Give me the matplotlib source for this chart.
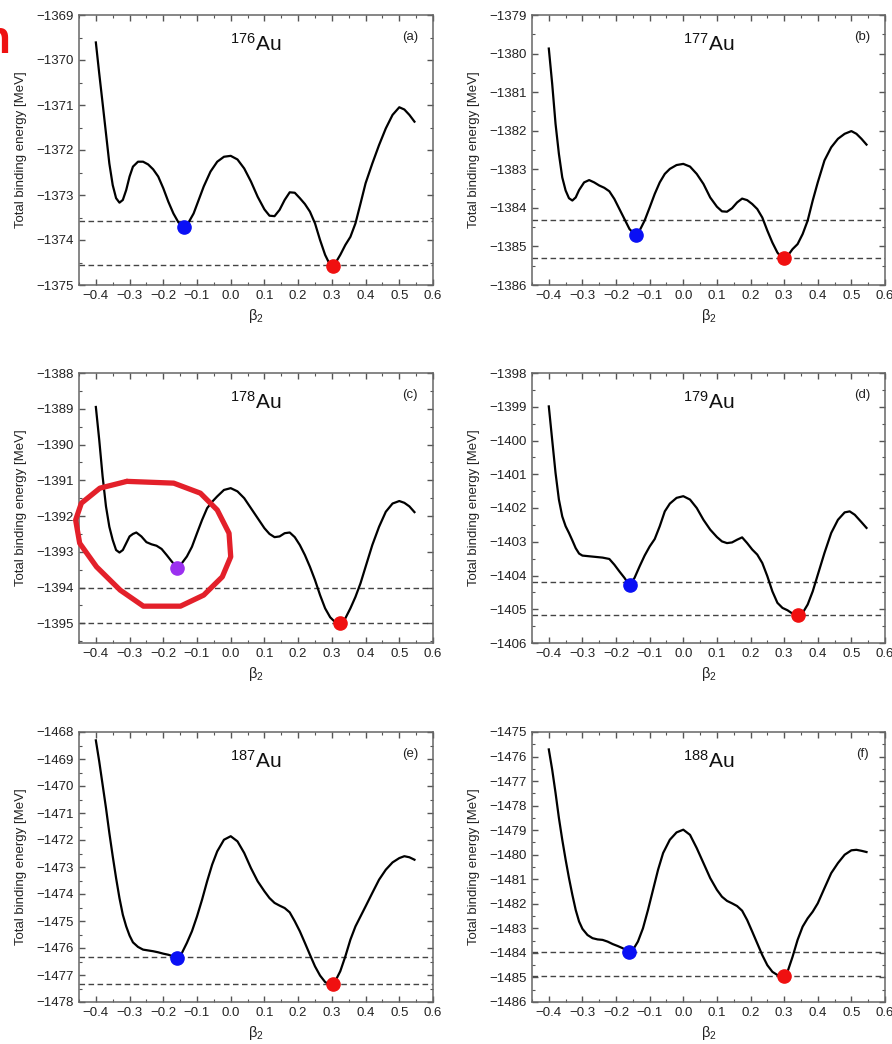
import matplotlib
matplotlib.use("Agg")

import matplotlib.pyplot as plt
from matplotlib.ticker import MultipleLocator

plt.rcParams['font.family'] = ['Liberation Sans', 'DejaVu Sans']
plt.rcParams['mathtext.fontset'] = 'custom'
plt.rcParams['mathtext.rm'] = 'Liberation Sans'
plt.rcParams['mathtext.it'] = 'Liberation Sans'

# ---- data ----
labels = ["(a)", "(b)", "(c)", "(d)", "(e)", "(f)"]
isotopes = ["176", "177", "178", "179", "187", "188"]
ylims = [(-1375, -1369), (-1386, -1379), (-1395.55, -1388),
         (-1406, -1398), (-1478, -1468), (-1486, -1475)]

beta_a = [-0.400, -0.390, -0.380, -0.370, -0.360, -0.350, -0.340, -0.330, -0.320, -0.310,
          -0.300, -0.290, -0.275, -0.260, -0.245, -0.230, -0.215, -0.200, -0.185, -0.170,
          -0.155, -0.140, -0.125, -0.110, -0.095, -0.080, -0.060, -0.040, -0.020, 0.000,
          0.020, 0.040, 0.060, 0.080, 0.100, 0.115, 0.130, 0.145, 0.160, 0.175,
          0.190, 0.205, 0.220, 0.235, 0.250, 0.265, 0.280, 0.295, 0.310, 0.325,
          0.340, 0.355, 0.370, 0.385, 0.400, 0.420, 0.440, 0.460, 0.480, 0.500,
          0.515, 0.530, 0.545]
e_a = [-1369.61, -1370.30, -1370.96, -1371.63, -1372.30, -1372.78, -1373.07, -1373.17, -1373.11, -1372.89,
       -1372.59, -1372.37, -1372.26, -1372.26, -1372.32, -1372.43, -1372.59, -1372.85, -1373.15, -1373.41,
       -1373.61, -1373.70, -1373.61, -1373.41, -1373.11, -1372.81, -1372.48, -1372.26, -1372.15, -1372.13,
       -1372.21, -1372.41, -1372.70, -1373.04, -1373.32, -1373.46, -1373.47, -1373.33, -1373.11, -1372.94,
       -1372.95, -1373.07, -1373.20, -1373.37, -1373.63, -1374.00, -1374.33, -1374.56, -1374.52, -1374.33,
       -1374.11, -1373.93, -1373.63, -1373.19, -1372.74, -1372.30, -1371.89, -1371.52, -1371.22, -1371.05,
       -1371.10, -1371.22, -1371.37]

beta_b = [-0.400, -0.390, -0.380, -0.370, -0.360, -0.350, -0.340, -0.330, -0.320, -0.310,
          -0.295, -0.280, -0.265, -0.250, -0.235, -0.220, -0.205, -0.190, -0.175, -0.160,
          -0.145, -0.130, -0.115, -0.100, -0.085, -0.070, -0.055, -0.040, -0.020, 0.000,
          0.020, 0.040, 0.060, 0.080, 0.100, 0.115, 0.130, 0.145, 0.160, 0.175,
          0.190, 0.205, 0.220, 0.235, 0.250, 0.265, 0.280, 0.295, 0.310, 0.325,
          0.340, 0.355, 0.370, 0.385, 0.400, 0.420, 0.440, 0.460, 0.480, 0.500,
          0.515, 0.530, 0.545]
e_b = [-1379.87, -1380.78, -1381.82, -1382.60, -1383.21, -1383.55, -1383.75, -1383.81, -1383.73, -1383.54,
       -1383.34, -1383.28, -1383.34, -1383.42, -1383.48, -1383.57, -1383.77, -1384.03, -1384.29, -1384.55,
       -1384.68, -1384.59, -1384.33, -1383.99, -1383.64, -1383.34, -1383.12, -1382.99, -1382.89, -1382.86,
       -1382.93, -1383.12, -1383.38, -1383.73, -1383.97, -1384.09, -1384.10, -1384.01, -1383.86, -1383.76,
       -1383.80, -1383.90, -1384.03, -1384.25, -1384.59, -1384.90, -1385.16, -1385.31, -1385.25, -1385.07,
       -1384.94, -1384.68, -1384.33, -1383.81, -1383.34, -1382.77, -1382.43, -1382.21, -1382.08, -1382.01,
       -1382.08, -1382.21, -1382.36]

beta_c = [-0.400, -0.390, -0.380, -0.370, -0.360, -0.350, -0.340, -0.330, -0.320, -0.310,
          -0.300, -0.290, -0.280, -0.265, -0.250, -0.235, -0.220, -0.205, -0.190, -0.175,
          -0.160, -0.145, -0.130, -0.115, -0.100, -0.085, -0.070, -0.055, -0.040, -0.020,
          0.000, 0.020, 0.040, 0.060, 0.080, 0.100, 0.115, 0.130, 0.145, 0.160,
          0.175, 0.190, 0.205, 0.220, 0.235, 0.250, 0.265, 0.280, 0.295, 0.310,
          0.325, 0.340, 0.355, 0.370, 0.385, 0.400, 0.420, 0.440, 0.460, 0.480,
          0.500, 0.515, 0.530, 0.545]
e_c = [-1388.95, -1389.87, -1390.89, -1391.73, -1392.30, -1392.67, -1392.95, -1393.02, -1392.95, -1392.76,
       -1392.57, -1392.50, -1392.46, -1392.57, -1392.73, -1392.79, -1392.83, -1392.92, -1393.09, -1393.27,
       -1393.43, -1393.32, -1393.13, -1392.86, -1392.48, -1392.11, -1391.78, -1391.60, -1391.45, -1391.27,
       -1391.22, -1391.31, -1391.50, -1391.78, -1392.06, -1392.34, -1392.50, -1392.59, -1392.57, -1392.48,
       -1392.46, -1392.59, -1392.81, -1393.09, -1393.42, -1393.79, -1394.21, -1394.58, -1394.83, -1394.97,
       -1395.00, -1394.86, -1394.58, -1394.26, -1393.88, -1393.42, -1392.81, -1392.30, -1391.88, -1391.65,
       -1391.58, -1391.63, -1391.73, -1391.89]

beta_d = [-0.400, -0.390, -0.380, -0.370, -0.360, -0.350, -0.340, -0.330, -0.320, -0.310,
          -0.300, -0.280, -0.260, -0.240, -0.220, -0.205, -0.190, -0.175, -0.160, -0.145,
          -0.130, -0.115, -0.100, -0.085, -0.070, -0.055, -0.040, -0.020, 0.000, 0.020,
          0.040, 0.060, 0.080, 0.100, 0.115, 0.130, 0.145, 0.160, 0.175, 0.190,
          0.205, 0.220, 0.235, 0.250, 0.265, 0.280, 0.295, 0.310, 0.325, 0.340,
          0.355, 0.370, 0.385, 0.400, 0.420, 0.440, 0.460, 0.480, 0.495, 0.510,
          0.530, 0.545]
e_d = [-1398.99, -1399.98, -1400.96, -1401.75, -1402.25, -1402.54, -1402.74, -1402.96, -1403.19, -1403.35,
       -1403.41, -1403.43, -1403.45, -1403.47, -1403.51, -1403.68, -1403.88, -1404.07, -1404.29, -1404.07,
       -1403.73, -1403.41, -1403.14, -1402.92, -1402.54, -1402.10, -1401.87, -1401.70, -1401.65, -1401.75,
       -1402.00, -1402.35, -1402.64, -1402.86, -1402.99, -1403.04, -1403.02, -1402.94, -1402.87, -1403.04,
       -1403.23, -1403.38, -1403.63, -1404.02, -1404.47, -1404.81, -1404.96, -1405.03, -1405.13, -1405.19,
       -1405.11, -1404.86, -1404.47, -1403.98, -1403.33, -1402.74, -1402.35, -1402.13, -1402.10, -1402.20,
       -1402.42, -1402.59]

beta_e = [-0.400, -0.390, -0.380, -0.370, -0.360, -0.350, -0.340, -0.330, -0.320, -0.310,
          -0.300, -0.290, -0.275, -0.260, -0.245, -0.230, -0.215, -0.200, -0.185, -0.170,
          -0.160, -0.145, -0.130, -0.115, -0.100, -0.085, -0.070, -0.055, -0.040, -0.020,
          0.000, 0.020, 0.040, 0.060, 0.080, 0.100, 0.115, 0.130, 0.145, 0.160,
          0.175, 0.190, 0.205, 0.220, 0.235, 0.250, 0.265, 0.280, 0.295, 0.310,
          0.325, 0.340, 0.355, 0.370, 0.385, 0.400, 0.420, 0.440, 0.460, 0.480,
          0.500, 0.515, 0.530, 0.545]
e_e = [-1468.31, -1469.09, -1469.95, -1470.81, -1471.74, -1472.60, -1473.41, -1474.15, -1474.77, -1475.20,
       -1475.54, -1475.79, -1475.96, -1476.06, -1476.09, -1476.12, -1476.16, -1476.21, -1476.25, -1476.31,
       -1476.37, -1476.19, -1475.81, -1475.38, -1474.83, -1474.21, -1473.53, -1472.91, -1472.42, -1471.99,
       -1471.86, -1472.05, -1472.48, -1473.04, -1473.53, -1473.90, -1474.15, -1474.33, -1474.43, -1474.52,
       -1474.68, -1475.01, -1475.38, -1475.81, -1476.25, -1476.68, -1477.02, -1477.26, -1477.36, -1477.23,
       -1476.86, -1476.31, -1475.69, -1475.20, -1474.83, -1474.46, -1473.96, -1473.47, -1473.10, -1472.83,
       -1472.67, -1472.60, -1472.64, -1472.73]

beta_f = [-0.400, -0.390, -0.380, -0.370, -0.360, -0.350, -0.340, -0.330, -0.320, -0.310,
          -0.300, -0.285, -0.270, -0.255, -0.240, -0.225, -0.210, -0.195, -0.180, -0.165,
          -0.150, -0.135, -0.120, -0.105, -0.090, -0.075, -0.060, -0.040, -0.020, 0.000,
          0.020, 0.040, 0.060, 0.080, 0.100, 0.115, 0.130, 0.145, 0.160, 0.175,
          0.190, 0.205, 0.220, 0.235, 0.250, 0.265, 0.280, 0.295, 0.310, 0.325,
          0.340, 0.355, 0.370, 0.385, 0.400, 0.420, 0.440, 0.460, 0.480, 0.500,
          0.515, 0.530, 0.545]
e_f = [-1475.71, -1476.53, -1477.48, -1478.50, -1479.39, -1480.20, -1480.95, -1481.63, -1482.25, -1482.72,
       -1483.02, -1483.27, -1483.40, -1483.45, -1483.47, -1483.54, -1483.64, -1483.72, -1483.81, -1483.95,
       -1483.88, -1483.54, -1483.00, -1482.25, -1481.43, -1480.61, -1479.93, -1479.39, -1479.09, -1478.98,
       -1479.19, -1479.73, -1480.34, -1480.95, -1481.43, -1481.71, -1481.88, -1481.98, -1482.09, -1482.28,
       -1482.66, -1483.13, -1483.61, -1484.09, -1484.50, -1484.77, -1484.90, -1484.95, -1484.77, -1484.16,
       -1483.47, -1482.93, -1482.59, -1482.32, -1481.98, -1481.36, -1480.75, -1480.34, -1480.00, -1479.82,
       -1479.80, -1479.84, -1479.89]

betas = [beta_a, beta_b, beta_c, beta_d, beta_e, beta_f]
energies = [e_a, e_b, e_c, e_d, e_e, e_f]

# oblate (left) and prolate (right) minima, and the dashed reference levels
oblate_beta = [-0.139, -0.141, -0.159, -0.159, -0.159, -0.161]
oblate_e = [-1373.70, -1384.70, -1393.44, -1404.29, -1476.37, -1483.98]
prolate_beta = [0.302, 0.300, 0.323, 0.340, 0.303, 0.300]
prolate_e = [-1374.57, -1385.31, -1395.00, -1405.18, -1477.35, -1484.95]
upper_level = [-1373.57, -1384.32, -1394.00, -1404.19, -1476.35, -1483.95]
lower_level = [-1374.56, -1385.31, -1395.00, -1405.18, -1477.35, -1484.95]
oblate_colors = ["#0a10f5", "#0a10f5", "#9b30f0", "#0a10f5", "#0a10f5", "#0a10f5"]

# hand drawn loop around the 178Au oblate minimum (panel c data coords)
loop_x = [-0.308, -0.169, -0.090, -0.040, -0.005, 0.000, -0.025, -0.080, -0.149,
          -0.259, -0.328, -0.398, -0.448, -0.460, -0.443, -0.388, -0.308]
loop_y = [-1391.03, -1391.08, -1391.36, -1391.83, -1392.48, -1393.14, -1393.70, -1394.21,
          -1394.52, -1394.52, -1394.07, -1393.42, -1392.76, -1392.11, -1391.64, -1391.22,
          -1391.03]

fig = plt.figure(figsize=(8.92, 10.44), dpi=100)

W, H = 892.0, 1044.0
col_left = [79, 532]
col_width = [354, 353]
row_top = [15, 373, 732]
ax_h = 270

for i in range(6):
    r, c = divmod(i, 2)
    ax = fig.add_axes([col_left[c] / W, 1 - (row_top[r] + ax_h) / H,
                       col_width[c] / W, ax_h / H])
    ax.plot(betas[i], energies[i], color="black", lw=1.6, zorder=3)
    ax.axhline(upper_level[i], color="#444444", ls=(0, (4, 2.5)), lw=1.0, zorder=2)
    ax.axhline(lower_level[i], color="#444444", ls=(0, (4, 2.5)), lw=1.0, zorder=2)
    ax.plot(oblate_beta[i], oblate_e[i], "o", color=oblate_colors[i], ms=9.5, zorder=4)
    ax.plot(prolate_beta[i], prolate_e[i], "o", color="#f01010", ms=9.5, zorder=4)

    ax.set_xlim(-0.45, 0.6)
    ax.set_ylim(*ylims[i])
    ax.xaxis.set_major_locator(MultipleLocator(0.1))
    ax.xaxis.set_minor_locator(MultipleLocator(0.05))
    ax.yaxis.set_major_locator(MultipleLocator(1))
    ax.yaxis.set_minor_locator(MultipleLocator(0.5))
    ax.ticklabel_format(axis="y", useOffset=False)
    ax.tick_params(which="both", direction="in", top=True, right=True,
                   colors="#555555", labelcolor="#222222", labelsize=9.5)
    ax.tick_params(which="major", length=4, width=1)
    ax.tick_params(which="minor", length=2, width=0.8)
    for sp in ax.spines.values():
        sp.set_color("#666666")
        sp.set_linewidth(1.1)

    ax.set_ylabel("Total binding energy [MeV]", fontsize=9.5, color="#222222", labelpad=7)
    ax.set_xlabel(r"β$_2$", fontsize=10.5, color="#222222", labelpad=4)

    ax.text(0.5, 0.868, r"$^{%s}$Au" % isotopes[i], transform=ax.transAxes,
            ha="center", va="baseline", fontsize=15, color="#111111")
    ax.text(0.935, 0.92, labels[i], transform=ax.transAxes,
            ha="center", va="center", fontsize=9.5, color="#222222")

    if i == 2:
        ax.plot(loop_x, loop_y, color="#e3202a", lw=3.8, solid_joinstyle="round",
                solid_capstyle="round", clip_on=False, zorder=5)

# clipped red letter at the top-left corner
fig.text(11 / W, 1 - 53 / H, "n", color="#ee1111", fontsize=33, fontweight="bold",
         ha="right", va="baseline")

fig.savefig("out.png", dpi=100)
